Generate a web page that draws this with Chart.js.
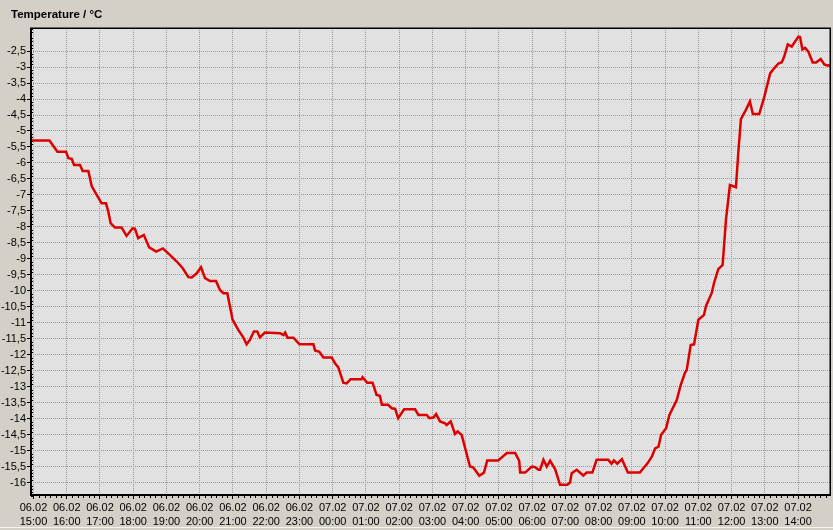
<!DOCTYPE html>
<html>
<head>
<meta charset="utf-8">
<script src="https://cdn.jsdelivr.net/npm/chart.js@4/dist/chart.umd.min.js"></script>
<style>
	html, body { margin: 0; padding: 0; background: #D4D0C8; }
	#wrap { width: 833px; height: 530px; }
</style>
</head>
<body>
<div id="wrap"><canvas id="myChart" width="833" height="530"></canvas></div>
<script>

// hours since 06.02 15:00
var hours = [
	-0.08, 0.48, 0.72, 0.98, 1.05, 1.15, 1.22, 1.40, 1.48, 1.65,
	1.75, 1.90, 2.05, 2.18, 2.25, 2.32, 2.45, 2.65, 2.80, 2.98,
	3.05, 3.15, 3.32, 3.48, 3.69, 3.89, 4.11, 4.31, 4.49, 4.66,
	4.76, 4.91, 5.04, 5.16, 5.31, 5.49, 5.61, 5.71, 5.83, 5.99,
	6.16, 6.31, 6.41, 6.51, 6.63, 6.73, 6.81, 6.96, 7.42, 7.52,
	7.57, 7.64, 7.82, 8.00, 8.42, 8.47, 8.60, 8.72, 8.97, 9.07,
	9.17, 9.32, 9.42, 9.54, 9.87, 9.90, 10.04, 10.20, 10.32, 10.42,
	10.48, 10.67, 10.78, 10.88, 10.97, 11.15, 11.48, 11.58, 11.83, 11.91,
	12.03, 12.11, 12.23, 12.38, 12.43, 12.55, 12.68, 12.76, 12.88, 13.13,
	13.23, 13.41, 13.55, 13.65, 13.98, 14.24, 14.49, 14.61, 14.64, 14.79,
	14.99, 15.09, 15.19, 15.24, 15.34, 15.44, 15.54, 15.69, 15.84, 16.06,
	16.14, 16.19, 16.34, 16.54, 16.64, 16.81, 16.94, 17.29, 17.39, 17.46,
	17.56, 17.70, 17.88, 18.24, 18.47, 18.60, 18.70, 18.80, 18.88, 19.03,
	19.13, 19.35, 19.47, 19.60, 19.65, 19.77, 19.87, 20.00, 20.17, 20.23,
	20.40, 20.47, 20.60, 20.73, 20.83, 20.95, 21.13, 21.20, 21.28, 21.43,
	21.55, 21.64, 21.83, 21.98, 22.16, 22.28, 22.41, 22.51, 22.58, 22.69,
	22.81, 23.01, 23.06, 23.13, 23.21, 23.31, 23.44, 23.54, 23.68, 23.79,
	23.89, 23.96
];

var temperature = [
	-5.3, -5.3, -5.65, -5.65, -5.85, -5.87, -6.06, -6.06, -6.25, -6.25,
	-6.72, -7.0, -7.26, -7.26, -7.52, -7.88, -8.02, -8.02, -8.28, -8.04,
	-8.05, -8.35, -8.25, -8.64, -8.77, -8.67, -8.88, -9.08, -9.29, -9.57,
	-9.58, -9.45, -9.26, -9.6, -9.69, -9.69, -9.97, -10.07, -10.07, -10.9,
	-11.22, -11.45, -11.67, -11.53, -11.27, -11.27, -11.45, -11.3, -11.32, -11.38,
	-11.3, -11.46, -11.46, -11.67, -11.67, -11.86, -11.9, -12.08, -12.08, -12.26,
	-12.39, -12.87, -12.89, -12.76, -12.76, -12.7, -12.87, -12.87, -13.25, -13.28,
	-13.56, -13.56, -13.67, -13.69, -13.98, -13.7, -13.7, -13.88, -13.88, -13.98,
	-13.96, -13.85, -14.08, -14.14, -14.19, -14.08, -14.47, -14.39, -14.5, -15.49,
	-15.52, -15.78, -15.68, -15.3, -15.3, -15.07, -15.07, -15.31, -15.68, -15.68,
	-15.49, -15.51, -15.59, -15.59, -15.28, -15.49, -15.31, -15.57, -16.06, -16.06,
	-15.99, -15.7, -15.59, -15.77, -15.68, -15.68, -15.28, -15.28, -15.4, -15.3,
	-15.4, -15.26, -15.68, -15.68, -15.39, -15.18, -14.92, -14.87, -14.5, -14.29,
	-13.88, -13.41, -12.94, -12.55, -12.47, -11.69, -11.67, -10.9, -10.75, -10.47,
	-10.07, -9.76, -9.32, -9.19, -7.78, -6.69, -6.76, -5.7, -4.63, -4.34,
	-4.08, -4.47, -4.47, -3.95, -3.2, -3.04, -2.89, -2.85, -2.68, -2.29,
	-2.36, -2.05, -2.06, -2.45, -2.4, -2.52, -2.86, -2.86, -2.75, -2.92,
	-2.96, -2.93
];

var hourTicks = [0, 1, 2, 3, 4, 5, 6, 7, 8, 9, 10, 11, 12, 13, 14, 15, 16, 17, 18, 19, 20, 21, 22, 23];
var tickDates = ["06.02", "06.02", "06.02", "06.02", "06.02", "06.02", "06.02", "06.02", "06.02",
	"07.02", "07.02", "07.02", "07.02", "07.02", "07.02", "07.02", "07.02", "07.02", "07.02",
	"07.02", "07.02", "07.02", "07.02", "07.02"];
var tickTimes = ["15:00", "16:00", "17:00", "18:00", "19:00", "20:00", "21:00", "22:00", "23:00",
	"00:00", "01:00", "02:00", "03:00", "04:00", "05:00", "06:00", "07:00", "08:00", "09:00",
	"10:00", "11:00", "12:00", "13:00", "14:00"];

var tempTicks = [-16, -15.5, -15, -14.5, -14, -13.5, -13, -12.5, -12, -11.5, -11, -10.5, -10,
	-9.5, -9, -8.5, -8, -7.5, -7, -6.5, -6, -5.5, -5, -4.5, -4, -3.5, -3, -2.5];

var title = "Temperature / °C";

var points = hours.map(function(h, i) {
	return { x: h, y: temperature[i] };
});

var frame = {
	id: "frame",
	beforeDraw: function(chart) {
		var c = chart.ctx, a = chart.chartArea;
		c.save();
		c.fillStyle = "#D4D0C8";
		c.fillRect(0, 0, chart.width, chart.height);
		c.fillStyle = "#E1E1E1";
		c.fillRect(a.left, a.top, a.right - a.left, a.bottom - a.top);
		c.restore();
	},
	afterDraw: function(chart) {
		var c = chart.ctx, a = chart.chartArea;
		var xs = chart.scales.x, ys = chart.scales.y;
		c.save();
		// minor ticks
		c.strokeStyle = "#000";
		c.lineWidth = 1;
		c.beginPath();
		for (var m = 0; m < 24 * 6; m++) {
			if (m % 6 === 0) continue;
			var px = Math.round(xs.getPixelForValue(m / 6)) + 0.5;
			if (px > a.right) break;
			c.moveTo(px, a.bottom);
			c.lineTo(px, a.bottom + 3);
		}
		for (var k = -164; k <= -18; k++) {
			if (k % 5 === 0) continue;
			var py = Math.round(ys.getPixelForValue(k / 10)) + 0.5;
			c.moveTo(a.left, py);
			c.lineTo(a.left + 2, py);
		}
		c.stroke();
		// frame
		c.fillStyle = "#000";
		c.fillRect(a.left - 1, a.top, 2, a.bottom - a.top + 1);
		c.fillRect(a.left - 1, a.bottom - 1, a.right - a.left + 2, 2);
		c.fillRect(a.left - 1, a.top - 0.5, a.right - a.left + 2, 1.5);
		c.fillRect(a.right - 0.5, a.top, 1.5, a.bottom - a.top);
		// bottom strip line
		c.fillStyle = "#F4F3EF";
		c.fillRect(0, 527, chart.width, 1);
		// title
		c.fillStyle = "#000";
		c.font = "bold 11.5px 'Liberation Sans', Arial, sans-serif";
		c.textBaseline = "alphabetic";
		c.fillText(title, 11, 18);
		c.restore();
	}
};

var ctx = document.getElementById("myChart");

var myChart = new Chart(ctx, {
	type: "line",
	data: {
		datasets: [{
			data: points,
			borderColor: "#DD0000",
			borderWidth: 2.5,
			pointRadius: 0,
			tension: 0,
			fill: false
		}]
	},
	options: {
		responsive: false,
		animation: false,
		events: [],
		layout: { padding: { top: 28, right: 3, left: 0, bottom: 0 } },
		plugins: {
			legend: { display: false },
			tooltip: { enabled: false },
			title: { display: false }
		},
		scales: {
			x: {
				type: "linear",
				min: -0.075,
				max: 23.96,
				afterBuildTicks: function(axis) {
					axis.ticks = hourTicks.map(function(v) { return { value: v }; });
				},
				afterFit: function(axis) { axis.height = 35; },
				grid: {
					color: "#999999",
					lineWidth: 1,
					drawTicks: true,
					tickLength: 4,
					tickColor: "#000",
					tickWidth: 1
				},
				border: { display: false, dash: [1, 1] },
				ticks: {
					autoSkip: false,
					maxRotation: 0,
					padding: 2,
					color: "#000",
					font: { family: "'Liberation Sans', Arial, sans-serif", size: 11, lineHeight: 1.28 },
					callback: function(value, index) {
						return [tickDates[index], tickTimes[index]];
					}
				}
			},
			y: {
				type: "linear",
				min: -16.38,
				max: -1.78,
				afterBuildTicks: function(axis) {
					axis.ticks = tempTicks.map(function(v) { return { value: v }; });
				},
				afterFit: function(axis) { axis.width = 31; },
				grid: {
					color: "#999999",
					lineWidth: 1,
					drawTicks: true,
					tickLength: 4,
					tickColor: "#000",
					tickWidth: 1
				},
				border: { display: false, dash: [1, 1] },
				ticks: {
					padding: 1,
					color: "#000",
					font: { family: "'Liberation Sans', Arial, sans-serif", size: 11 },
					callback: function(value) {
						return String(value).replace(".", ",");
					}
				}
			}
		}
	},
	plugins: [frame]
});

</script>
</body>
</html>
